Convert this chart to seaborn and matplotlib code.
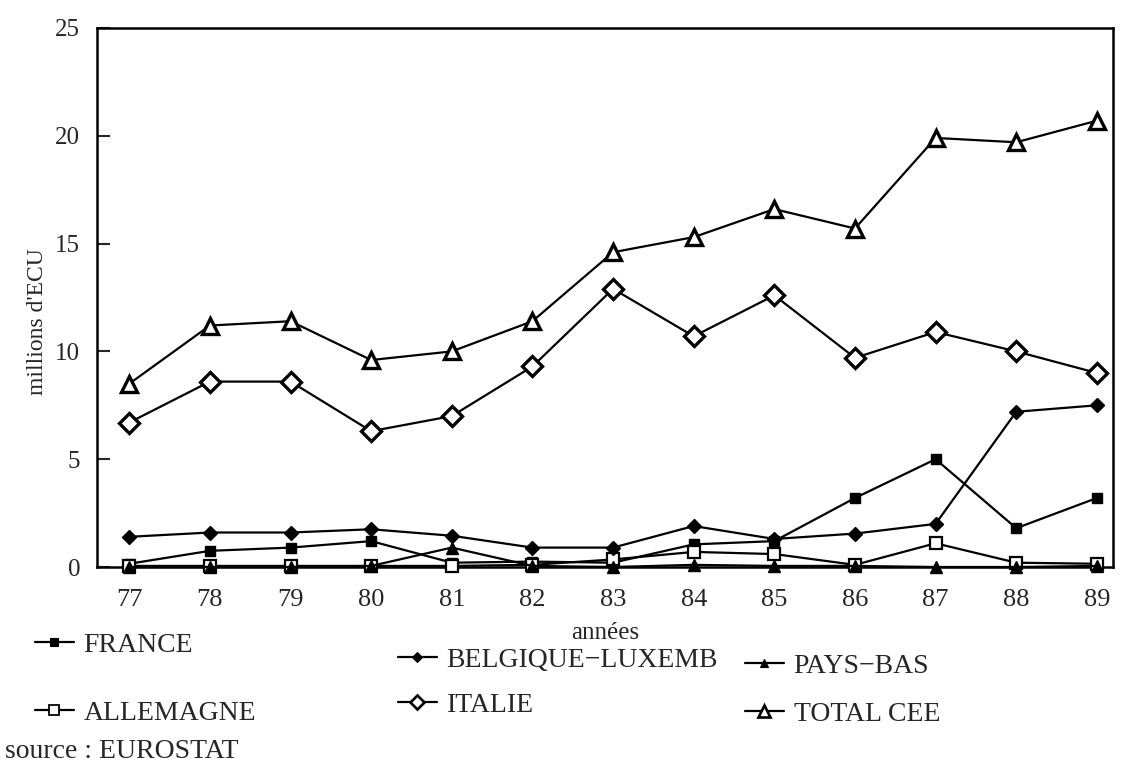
import matplotlib
matplotlib.use("Agg")
import matplotlib.pyplot as plt
import seaborn as sns
import pandas as pd
from matplotlib.lines import Line2D

# ---- data ----
years = [77, 78, 79, 80, 81, 82, 83, 84, 85, 86, 87, 88, 89]
france = [0.15, 0.75, 0.9, 1.2, 0.2, 0.25, 0.2, 1.05, 1.2, 3.2, 5.0, 1.8, 3.2]
allemagne = [0.05, 0.05, 0.05, 0.05, 0.05, 0.1, 0.35, 0.7, 0.6, 0.1, 1.1, 0.2, 0.15]
belgique_lux = [1.4, 1.6, 1.6, 1.75, 1.45, 0.9, 0.9, 1.9, 1.3, 1.55, 2.0, 7.2, 7.5]
italie = [6.7, 8.6, 8.6, 6.3, 7.0, 9.3, 12.9, 10.7, 12.6, 9.7, 10.9, 10.0, 9.0]
pays_bas = [0.0, 0.0, 0.0, 0.05, 0.9, 0.05, 0.0, 0.1, 0.05, 0.05, 0.0, 0.0, 0.05]
total_cee = [8.5, 11.2, 11.4, 9.6, 10.0, 11.4, 14.6, 15.3, 16.6, 15.7, 19.9, 19.7, 20.7]

series_names = ["FRANCE", "ALLEMAGNE", "BELGIQUE\u2212LUXEMB", "ITALIE", "PAYS\u2212BAS", "TOTAL CEE"]
yticks = [0, 5, 10, 15, 20, 25]
xtick_labels = [str(y) for y in years]

sns.set_theme(style="white")
plt.rcParams["font.family"] = ["Liberation Serif", "DejaVu Serif"]

fig = plt.figure(figsize=(11.36, 7.75), dpi=100)
W, H = 1136, 775
ax = fig.add_axes([97 / W, 1 - 567 / H, (1113 - 97) / W, (567 - 28) / H])

styles = {
    "FRANCE": dict(marker="s", ms=7, mfc="black", mew=1.0),
    "ALLEMAGNE": dict(marker="s", ms=9, mfc="white", mew=1.6),
    "BELGIQUE\u2212LUXEMB": dict(marker="D", ms=7, mfc="black", mew=1.0),
    "ITALIE": dict(marker="D", ms=10, mfc="white", mew=2.4),
    "PAYS\u2212BAS": dict(marker="^", ms=8, mfc="black", mew=1.0),
    "TOTAL CEE": dict(marker="^", ms=12, mfc="white", mew=2.4),
}
values = [france, allemagne, belgique_lux, italie, pays_bas, total_cee]

for name, vals in zip(series_names, values):
    df = pd.DataFrame({"annee": years, "valeur": vals})
    st = styles[name]
    sns.lineplot(data=df, x="annee", y="valeur", ax=ax, color="black",
                 linewidth=1.6, marker=st["marker"], markersize=st["ms"],
                 markerfacecolor=st["mfc"], markeredgecolor="black",
                 markeredgewidth=st["mew"], clip_on=False, zorder=3)

ax.set_xlim(76.6, 89.2)
ax.set_ylim(0, 25)
ax.set_xticks(years)
ax.set_xticklabels(xtick_labels)
ax.set_yticks(yticks)
ax.set_yticklabels([str(t) for t in yticks])
ax.tick_params(axis="y", direction="in", length=9, width=1.5, pad=12, labelsize=18, left=True)
ax.tick_params(axis="x", length=0, pad=16, labelsize=19)
for s in ax.spines.values():
    s.set_linewidth(1.8)
    s.set_color("black")
ax.set_xlabel("ann\u00e9es", fontsize=18, labelpad=8)
ax.set_ylabel("millions d'ECU", fontsize=17)
ax.yaxis.set_label_coords(-0.048, 0.455)
ax.grid(False)

def add_entry(name, x_px, y_px):
    st = styles[name]
    h = Line2D([], [], color="black", linewidth=1.6, marker=st["marker"],
               markersize=st["ms"] * 0.75, markerfacecolor=st["mfc"],
               markeredgecolor="black", markeredgewidth=st["mew"] * 0.8)
    leg = fig.legend([h], [name], loc="center left",
                     bbox_to_anchor=(x_px / W, 1 - y_px / H),
                     frameon=False, borderpad=0, borderaxespad=0,
                     handlelength=1.4, handletextpad=0.35,
                     prop={"family": ["Liberation Serif"], "size": 20})
    return leg

add_entry("FRANCE", 35, 645)
add_entry("ALLEMAGNE", 35, 713)
add_entry("BELGIQUE\u2212LUXEMB", 398, 660)
add_entry("ITALIE", 398, 705)
add_entry("PAYS\u2212BAS", 745, 666)
add_entry("TOTAL CEE", 745, 714)

fig.text(5 / W, 1 - 752 / H, "source : EUROSTAT", ha="left", va="center",
         fontsize=20, family=["Liberation Serif"])

fig.savefig("out.png", dpi=100)
